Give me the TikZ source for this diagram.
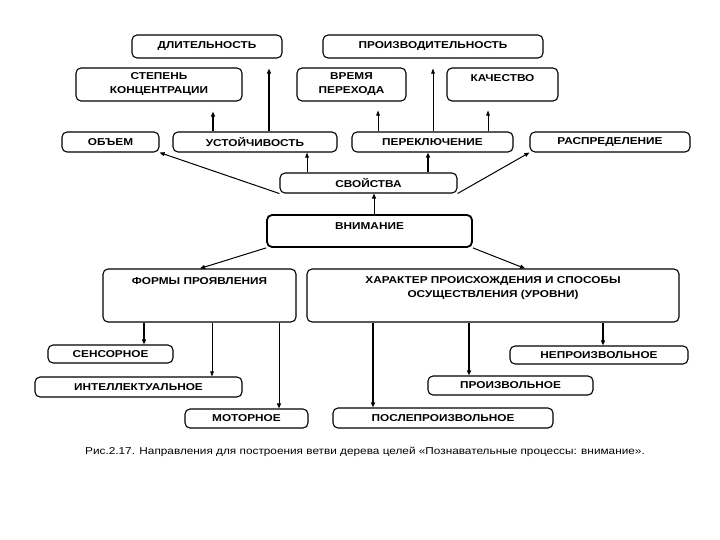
\documentclass[tikz,border=0pt]{standalone}
\usepackage{fontspec}
\setmainfont[FakeStretch=1.18]{Liberation Sans}
\usetikzlibrary{arrows.meta}
\begin{document}
\begin{tikzpicture}[x=1pt,y=-1pt,
  lblfont/.style={font=\fontsize{10}{14}\selectfont\bfseries},
  box/.style={draw, rounded corners=5pt, line width=1.1pt, inner sep=0pt, align=center, lblfont},
  txt/.style={inner sep=0pt, align=center, lblfont},
  thk/.style={line width=1.4pt, -{Triangle[length=5pt,width=4pt]}},
  med/.style={line width=1.0pt, -{Triangle[length=5pt,width=4pt]}},
  thn/.style={line width=0.7pt, -{Triangle[length=5pt,width=3.6pt]}},
]
\fill[white] (0,0) rectangle (720,540);
\useasboundingbox (0,0) rectangle (720,540);

% top rows
\node[box, minimum width=150pt, minimum height=23pt] (dlit) at (207,46.5) {ДЛИТЕЛЬНОСТЬ};
\node[box, minimum width=220pt, minimum height=23pt] (proizv) at (433,46.5) {ПРОИЗВОДИТЕЛЬНОСТЬ};
\node[box, minimum width=166pt, minimum height=33pt] (step) at (159,84.5) {СТЕПЕНЬ\\КОНЦЕНТРАЦИИ};
\node[box, minimum width=109pt, minimum height=33pt] (vrem) at (351.5,84.5) {ВРЕМЯ\\ПЕРЕХОДА};
\node[box, minimum width=111pt, minimum height=33pt] (kach) at (502.5,84.5) {};
\node[txt] (kacht) at (502.5,78) {КАЧЕСТВО};

\node[box, minimum width=97pt, minimum height=20pt] (obem) at (110.5,142) {ОБЪЕМ};
\node[box, minimum width=164pt, minimum height=20pt] (ustoi) at (255,142) {УСТОЙЧИВОСТЬ};
\node[box, minimum width=161pt, minimum height=20pt] (perekl) at (432.5,142) {ПЕРЕКЛЮЧЕНИЕ};
\node[box, minimum width=160pt, minimum height=20pt] (raspr) at (610,142) {РАСПРЕДЕЛЕНИЕ};

\node[box, minimum width=177pt, minimum height=20pt] (svoi) at (368.5,183) {СВОЙСТВА};
\node[box, line width=1.8pt, minimum width=205pt, minimum height=32pt] (vnim) at (369.5,231) {};
\node[txt] (vnimt) at (369.5,226) {ВНИМАНИЕ};

\node[box, minimum width=193pt, minimum height=53pt] (formy) at (199.5,295.5) {};
\node[txt] (formyt) at (199.5,281) {ФОРМЫ ПРОЯВЛЕНИЯ};
\node[box, minimum width=372pt, minimum height=53pt] (harakt) at (493,295.5) {};
\node[txt] (haraktt) at (493,288) {ХАРАКТЕР ПРОИСХОЖДЕНИЯ И СПОСОБЫ\\ОСУЩЕСТВЛЕНИЯ (УРОВНИ)};

% bottom rows
\node[box, minimum width=125pt, minimum height=18pt] (sens) at (110.5,354) {СЕНСОРНОЕ};
\node[box, minimum width=207pt, minimum height=20pt] (intel) at (138.5,387) {ИНТЕЛЛЕКТУАЛЬНОЕ};
\node[box, minimum width=123pt, minimum height=19pt] (motor) at (246.5,418.5) {МОТОРНОЕ};
\node[box, minimum width=178pt, minimum height=18pt] (neproiz) at (599,355) {НЕПРОИЗВОЛЬНОЕ};
\node[box, minimum width=165pt, minimum height=19pt] (proizvol) at (510.5,385.5) {ПРОИЗВОЛЬНОЕ};
\node[box, minimum width=220pt, minimum height=20pt] (posle) at (443,418) {ПОСЛЕПРОИЗВОЛЬНОЕ};

\node[inner sep=0pt, font=\fontsize{10}{12}\selectfont] (cap) at (365,452) {Рис.2.17. Направления для построения ветви дерева целей «Познавательные процессы: внимание».};

% helper x positions
\foreach \xx in {144,200,212,213,269,279,307,373,374,378,428,433,469,488,525,603}
  \coordinate (x\xx) at (\xx,0);

% connectors, upper part
\draw[thk, shorten >=10pt] (ustoi.north -| x213) -- (step.south -| x213);
\draw[thk, shorten >=10pt] (ustoi.north -| x269) -- (dlit.south -| x269);
\draw[thn, shorten >=9pt] (perekl.north -| x378) -- (vrem.south -| x378);
\draw[thn, shorten >=10pt] (perekl.north -| x433) -- (proizv.south -| x433);
\draw[thn, shorten >=9pt] (perekl.north -| x488) -- (kach.south -| x488);

\draw[thn] (svoi.north -| x307) -- (ustoi.south -| x307);
\draw[thk] (svoi.north -| x428) -- (perekl.south -| x428);
\draw[med] (svoi.south west) -- (obem.south east);
\draw[med] (svoi.south east) -- (raspr.south west);
\draw[med] (vnim.north -| x374) -- (svoi.south -| x374);

\draw[med] (vnim.south west) -- (formy.north -| x200);
\draw[med] (vnim.south east) -- (harakt.north -| x525);

% connectors, lower part
\draw[thk] (formy.south -| x144) -- (sens.north -| x144);
\draw[thn] (formy.south -| x212) -- (intel.north -| x212);
\draw[med] (formy.south -| x279) -- (motor.north -| x279);
\draw[thk] (harakt.south -| x373) -- (posle.north -| x373);
\draw[thk] (harakt.south -| x469) -- (proizvol.north -| x469);
\draw[thk] (harakt.south -| x603) -- (neproiz.north -| x603);
\end{tikzpicture}
\end{document}
